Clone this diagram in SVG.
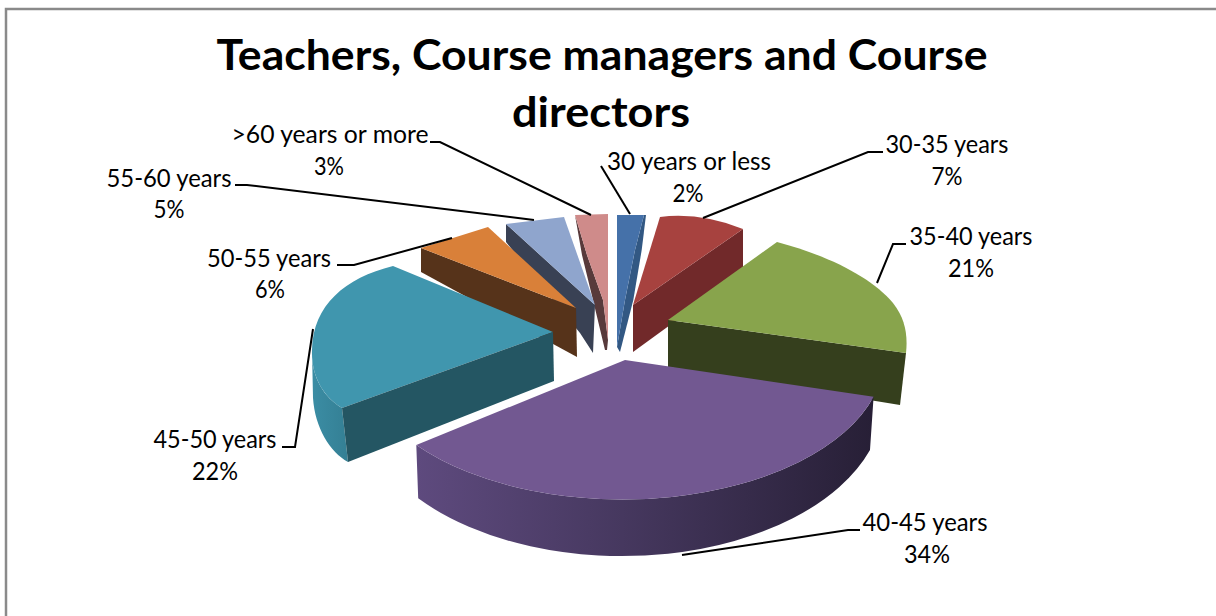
<svg xmlns="http://www.w3.org/2000/svg" width="1216" height="616" viewBox="0 0 1216 616">
<defs>
<style>
.lbl{font-family:Lato,"Open Sans","Liberation Sans",sans-serif;font-size:25px;fill:#000;text-anchor:middle}
.title{font-family:Lato,"Open Sans","Liberation Sans",sans-serif;font-weight:700;font-size:42px;fill:#000;text-anchor:middle}
.lead{fill:none;stroke:#000;stroke-width:2}
</style>
<linearGradient id="purpleSide" x1="416" y1="0" x2="874" y2="0" gradientUnits="userSpaceOnUse">
<stop offset="0" stop-color="#5E4A7E"/>
<stop offset="0.45" stop-color="#46385F"/>
<stop offset="1" stop-color="#271F36"/>
</linearGradient>
<linearGradient id="tealSide" x1="312" y1="0" x2="348" y2="0" gradientUnits="userSpaceOnUse">
<stop offset="0" stop-color="#3B8DA4"/>
<stop offset="1" stop-color="#347F94"/>
</linearGradient>
</defs>
<rect width="1216" height="616" fill="#fff"/>
<path d="M6,616 V9 H1216" fill="none" stroke="#8a8a8a" stroke-width="2.5"/>

<g id="title">
<text class="title" x="602" y="70" textLength="771" lengthAdjust="spacingAndGlyphs">Teachers, Course managers and Course</text>
<text class="title" x="601" y="127" textLength="178" lengthAdjust="spacingAndGlyphs">directors</text>
</g>

<g id="slice-60-more">
<path d="M575,215 L582,255 L593,300 L605,350 L607,350 L608,340 L603,300 L587,255 Z" fill="#583A3B"/>
<path d="M575,215 L608,214 L608,340 L603,300 L587,255 Z" fill="#CF8B8A"/>
<text class="lbl" x="330" y="143" textLength="197" lengthAdjust="spacingAndGlyphs">&gt;60 years or more</text>
<text class="lbl" x="329" y="175" textLength="30" lengthAdjust="spacingAndGlyphs">3%</text>
</g>

<g id="slice-30-less">
<path d="M644,215 L646,215 L641.7,250 L633.3,300 L620,352 L617,347 L625,300 L635,250 Z" fill="#325883"/>
<path d="M617,215 L644,215 L635,250 L625,300 L617,347 Z" fill="#4571A9"/>
<text class="lbl" x="689" y="170" textLength="164" lengthAdjust="spacingAndGlyphs">30 years or less</text>
<text class="lbl" x="688" y="202" textLength="31" lengthAdjust="spacingAndGlyphs">2%</text>
</g>

<g id="slice-55-60">
<path d="M506,224 L595,305 L593,353 L580,333 L506,242 Z" fill="#394154"/>
<path d="M506,224 L564,217 L595,305 Z" fill="#8FA5CD"/>
<text class="lbl" x="169" y="187" textLength="125" lengthAdjust="spacingAndGlyphs">55-60 years</text>
<text class="lbl" x="169" y="218" textLength="31" lengthAdjust="spacingAndGlyphs">5%</text>
</g>

<g id="slice-30-35">
<path d="M743,229 L743,272 L633,352 L633,305 Z" fill="#71292A"/>
<path d="M633,305 L660,217 Q700,212 743,229 Z" fill="#A7423F"/>
<text class="lbl" x="947" y="153" textLength="123" lengthAdjust="spacingAndGlyphs">30-35 years</text>
<text class="lbl" x="947" y="185" textLength="31" lengthAdjust="spacingAndGlyphs">7%</text>
</g>

<g id="slice-50-55">
<path d="M421,248 L576,308 L577,357 L421,272 Z" fill="#56331A"/>
<path d="M421,248 L488,227 L576,308 Z" fill="#D98039"/>
<text class="lbl" x="269" y="267" textLength="124" lengthAdjust="spacingAndGlyphs">50-55 years</text>
<text class="lbl" x="270" y="298" textLength="30" lengthAdjust="spacingAndGlyphs">6%</text>
</g>

<g id="slice-35-40">
<path d="M668,320 L906,353 L900,405 L668,367 Z" fill="#353F1D"/>
<path d="M668,320 L777,242 C830,256 872,278 893,303 C905,318 908,335 906,353 Z" fill="#88A44C"/>
<text class="lbl" x="971" y="245" textLength="123" lengthAdjust="spacingAndGlyphs">35-40 years</text>
<text class="lbl" x="971" y="277" textLength="46" lengthAdjust="spacingAndGlyphs">21%</text>
</g>

<g id="slice-45-50">
<path d="M553,332 L393,266 C345,278 313,305 312,350 C311,378 325,398 342,408 Z" fill="#4096AE"/>
<path d="M312,350 C311,378 325,398 342,408 L348,462 C330,452 315,428 313,398 Z" fill="url(#tealSide)"/>
<path d="M553,332 L342,408 L348,462 L554,381 Z" fill="#245663"/>
<text class="lbl" x="215" y="448" textLength="123" lengthAdjust="spacingAndGlyphs">45-50 years</text>
<text class="lbl" x="215" y="480" textLength="46" lengthAdjust="spacingAndGlyphs">22%</text>
</g>

<g id="slice-40-45">
<path d="M416.3,445 A262,143 0 0 0 873.6,396.7 L870,450 A262,156 0 0 1 418.2,498.3 Z" fill="url(#purpleSide)"/>
<path d="M625,360 L873.6,396.7 A262,143 0 0 1 416.3,445 Z" fill="#725891"/>
<text class="lbl" x="925" y="531" textLength="125" lengthAdjust="spacingAndGlyphs">40-45 years</text>
<text class="lbl" x="927" y="563" textLength="46" lengthAdjust="spacingAndGlyphs">34%</text>
</g>

<g id="connectors">
<polyline class="lead" points="430,142 440,142 591,215"/>
<polyline class="lead" points="235,185 247,185 534,220"/>
<polyline class="lead" points="337,265 354,265 452,238"/>
<polyline class="lead" points="282,447 295,447 313,329"/>
<polyline class="lead" points="601,166 630,214"/>
<polyline class="lead" points="883,152 868,152 703,218"/>
<polyline class="lead" points="906,244 893,244 877,283"/>
<polyline class="lead" points="860,530 848,530 682,555"/>
</g>
</svg>
